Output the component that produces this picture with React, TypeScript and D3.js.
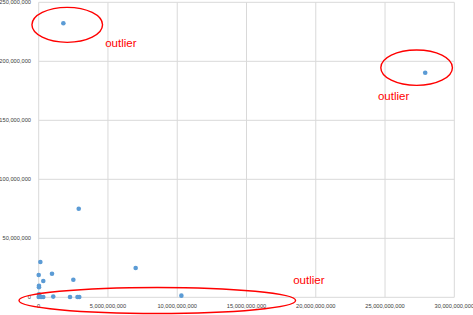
import * as d3 from "d3";
import { useEffect, useRef } from "react";

// scatter values (x in units, y in units)
const xValues = [
  1.78e9, 27.9e9, 2.89e9, 7.0e9, 0.12e9, 0.0, 0.96e9, 0.33e9, 2.5e9, 0.02e9,
  0.02e9, 0.02e9, 0.0, 0.17e9, 0.33e9, 1.05e9, 2.26e9, 2.8e9, 2.93e9, 10.3e9,
];
const yValues = [
  232.2e6, 190.3e6, 75.1e6, 24.8e6, 29.9e6, 18.9e6, 20.0e6, 13.8e6, 14.9e6, 9.8e6,
  8.5e6, 2.5e6, 0.2e6, 0.3e6, 0.3e6, 0.6e6, 0.3e6, 0.3e6, 0.3e6, 1.4e6,
];
const xTicks = [0, 5e9, 10e9, 15e9, 20e9, 25e9, 30e9];
const yTicks = [0, 50e6, 100e6, 150e6, 200e6, 250e6];

// annotation ellipses (centre in data units)
const noteX = [2.06e9, 27.28e9, 8.56e9];
const noteY = [230.9e6, 194.6e6, -2.7e6];
const noteRx = [35.3, 35.8, 138.3];
const noteRy = [17.5, 17.7, 13];
const noteTextX = [4.8e9, 24.49e9, 18.37e9];
const noteTextY = [212e6, 167.2e6, 11e6];

export default function App() {
  const ref = useRef<SVGSVGElement | null>(null);

  useEffect(() => {
    const width = 473;
    const height = 315;
    const svg = d3.select(ref.current);
    svg.selectAll("*").remove();
    svg.attr("width", width).attr("height", height);

    const x = d3.scaleLinear().domain([0, 30e9]).range([38.7, 454.3]);
    const y = d3.scaleLinear().domain([0, 250e6]).range([297.3, 2.3]);
    const fmt = d3.format(",");

    // gridlines
    svg
      .append("g")
      .selectAll("line")
      .data(yTicks)
      .enter()
      .append("line")
      .attr("x1", x(0))
      .attr("x2", x(30e9))
      .attr("y1", (d) => y(d))
      .attr("y2", (d) => y(d))
      .style("stroke", "#d9d9d9")
      .style("stroke-width", "1px");
    svg
      .append("g")
      .selectAll("line")
      .data(xTicks)
      .enter()
      .append("line")
      .attr("x1", (d) => x(d))
      .attr("x2", (d) => x(d))
      .attr("y1", y(0))
      .attr("y2", y(250e6))
      .style("stroke", "#d9d9d9")
      .style("stroke-width", "1px");

    // tick labels
    svg
      .append("g")
      .selectAll("text")
      .data(yTicks)
      .enter()
      .append("text")
      .attr("x", 31)
      .attr("y", (d) => y(d))
      .attr("dy", "0.35em")
      .attr("text-anchor", "end")
      .text((d) => fmt(d))
      .style("font-family", "Liberation Sans, Arial, sans-serif")
      .style("font-size", "5.7px")
      .style("fill", "#404040");
    svg
      .append("g")
      .selectAll("text")
      .data(xTicks)
      .enter()
      .append("text")
      .attr("x", (d) => x(d))
      .attr("y", 306)
      .attr("dy", "0.35em")
      .attr("text-anchor", "middle")
      .text((d) => fmt(d))
      .style("font-family", "Liberation Sans, Arial, sans-serif")
      .style("font-size", "5.7px")
      .style("fill", "#404040");

    // points
    svg
      .append("g")
      .selectAll("circle")
      .data(xValues.map((v, i) => ({ x: v, y: yValues[i] })))
      .enter()
      .append("circle")
      .attr("cx", (d) => x(d.x))
      .attr("cy", (d) => y(d.y))
      .attr("r", 2.3)
      .attr("fill", "#5b9bd5");

    // outlier notes
    noteX.forEach((nx, i) => {
      svg
        .append("ellipse")
        .attr("cx", x(nx))
        .attr("cy", y(noteY[i]))
        .attr("rx", noteRx[i])
        .attr("ry", noteRy[i])
        .attr("fill", "none")
        .style("stroke", "#ff0000")
        .style("stroke-width", "1.4px");
      svg
        .append("text")
        .attr("x", x(noteTextX[i]))
        .attr("y", y(noteTextY[i]))
        .text("outlier")
        .style("font-family", "Liberation Sans, Arial, sans-serif")
        .style("font-size", "11.5px")
        .style("fill", "#ff0000");
    });
  }, []);

  return (
    <svg
      ref={ref}
      style={{ position: "absolute", left: 0, top: 0, background: "#fff" }}
    ></svg>
  );
}
